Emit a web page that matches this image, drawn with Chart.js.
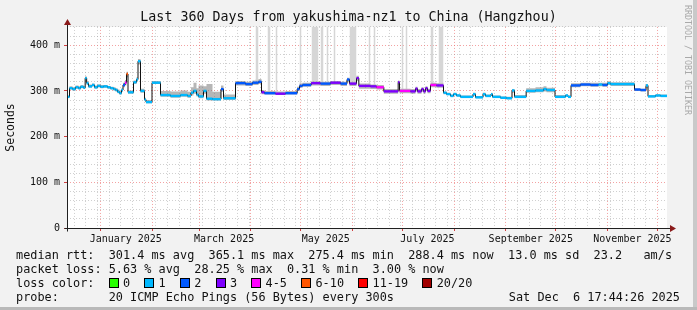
<!DOCTYPE html>
<html>
<head>
<meta charset="utf-8">
<script src="https://cdn.jsdelivr.net/npm/chart.js@4.4.1/dist/chart.umd.min.js"></script>
<style>
html,body{margin:0;padding:0;background:#f2f2f2;}
#wrap{position:relative;width:697px;height:310px;background:#f2f2f2;overflow:hidden;}
#c{position:absolute;left:0;top:0;}
#frameR{position:absolute;right:0;top:0;width:4px;height:310px;background:#c9c9c9;}
#frameB{position:absolute;left:0;bottom:0;width:697px;height:3px;background:#b9b9b9;}
.lg{position:absolute;left:16px;font-family:'DejaVu Sans Mono',monospace;font-size:11.85px;line-height:14px;white-space:pre;color:#111;}
.box{display:inline-block;width:8px;height:8px;border:1px solid #000;box-sizing:content-box;vertical-align:-1px;margin-right:calc(2ch - 10px);}
#stamp{position:absolute;right:17px;top:290px;font-family:'DejaVu Sans Mono',monospace;font-size:11.85px;line-height:14px;white-space:pre;color:#111;}
#wm{position:absolute;left:683px;top:5px;writing-mode:vertical-rl;font-family:'DejaVu Sans Mono',monospace;font-size:8.3px;color:#a9a9a9;white-space:pre;}
</style>
</head>
<body>
<div id="wrap">
<canvas id="c" width="697" height="310"></canvas>
<div id="frameR"></div><div id="frameB"></div>
<div id="wm">RRDTOOL / TOBI OETIKER</div>
<div class="lg" id="l1" style="top:248px"></div>
<div class="lg" id="l2" style="top:262px"></div>
<div class="lg" id="l3" style="top:276px"></div>
<div class="lg" id="l4" style="top:290px"></div>
<div id="stamp"></div>
</div>
<script>
// ---- data ----
// days since start of graph (Wed Dec 11 2024 17:44:26)
const days = [0,1.5,3.3,5.1,6.9,8.1,9.9,10.9,11.8,12.9,15,16.5,18.3,20.1,21.9,24.3,26.1,27.9,29.1,30.3,
31.5,32.7,33.6,34.8,35.7,36.6,39.9,41.7,42.6,44.1,46.5,47.4,51,56.1,62.1,68.1,72.3,74.4,75.9,77.7,
78.9,81.9,83.7,87.3,92.4,93.9,101.1,107.1,111.3,114.9,116.7,118.5,125.1,131.1,138.1,139.5,141.3,146.5,152.1,158.1,
164.1,168,169.5,173.7,175.1,182.1,185.7,190.1,198.7,199.5,206.1,209.1,210.3,212.7,213.9,215.1,216.3,218.1,221.7,225.9,
227.7,230.1,231.9,233.7,236.1,243.6,245.1,249.6,251.1,254.4,255.3,260.1,263.7,267,268.5,275.5,281.1,285.9,287.7,292.8,
299.1,300.6,302.4,308.1,314.1,318.9,321.3,324.3,326.1,340.5,344.1,347.4,348.6,353.1,356.1,360];
// median round trip time, ms
const medianMs = [287,306,304,308,306,309,307,328,317,310,313,308,311,309,310,308,306,304,302,298,
295,302,313,318,337,297,319,325,365,300,281,275.5,318,291,289,291,289,296,300,292,
288,300,283,282,304,284,317,315,318,320,297,295,294,295,304,311,313,317,316,318,
316,325,316,328,311,310,308,299,319,300,299,305,299,304,299,306,300,313,312,296,
293,289,293,290,287,293,286,293,289,293,287,285,284,301,287,300,301,304,302,287,
290,287,312,314,313,314,313,317,315,303,302,312,288,290,289,288];
// lost pings out of 20 for each step
const lossPings = [1,1,1,1,1,1,1,1,1,1,1,1,1,1,1,1,1,1,1,1,
1,1,2,4,6,1,1,1,1,1,1,1,1,1,1,1,1,1,1,1,
1,1,1,1,2,1,2,2,2,2,3,2,3,2,2,2,2,3,2,3,
2,2,3,3,3,3,4,3,3,4,3,3,3,3,3,3,3,4,3,1,
1,1,1,1,1,1,1,1,1,1,1,1,1,1,1,1,1,1,1,1,
1,1,2,2,2,1,2,1,1,2,2,1,1,1,1,1];
// smoke (ping spread) upper and lower edge, ms
const smokeHighMs = [290,310,308,312,310,313,311,332,321,314,316,312,314,313,313,311,309,308,306,303,
300,306,318,324,342,301,323,330,370,305,285,280,322,300,299,301,298,308,318,306,
312,310,315,298,312,292,322,320,323,326,302,300,299,300,309,316,318,321,320,322,
320,329,320,333,316,314,313,304,323,305,304,309,304,308,304,310,305,318,317,299,
296,292,296,293,290,296,289,296,292,296,290,288,287,304,291,306,308,310,307,291,
293,290,317,318,318,318,318,321,319,306,305,315,291,293,292,291];
const smokeLowMs = [285,303,301,305,303,306,304,322,313,307,310,305,308,306,307,305,303,301,299,295,
292,298,308,312,330,294,315,320,358,296,278,273,315,287,285,287,285,290,294,288,
284,294,279,279,298,280,312,311,313,315,293,292,291,292,300,307,309,312,311,313,
311,319,311,322,305,304,303,294,314,295,294,299,294,298,294,300,295,308,307,293,
291,287,291,288,285,290,284,290,287,290,285,283,282,296,285,296,297,299,297,285,
287,285,308,310,309,310,309,313,311,300,299,306,286,288,287,286];
// spans (days) where ping outliers run past the top of the graph
const outlierSpans = [[113.1,114.9],[120.3,122.1],[125.1,126.3],[139.5,140.7],[146.7,150.9],[152.1,153.9],
[155.7,156.9],[159.9,161.1],[169.5,173.7],[180.9,182.1],[183.9,185.1],[200.7,201.9],[203.1,204.3],
[218.1,219.9],[222.9,225.9]];

const lossLabels = ['0','1','2','3','4-5','6-10','11-19','20/20'];
const lossColors = ['#26ff00','#00b8ff','#0059ff','#7e00ff','#ff00ff','#ff5500','#ff0000','#a10000'];
const lossUpper = [0,1,2,3,5,10,19,20];
const labelMonths = ['January 2025','March 2025','May 2025','July 2025','September 2025','November 2025'];
const yTickValues = [0,20,40,60,80,100,120,140,160,180,200,220,240,260,280,300,320,340,360,380,400,420,440];
const legendLines = [
  'median rtt:  301.4 ms avg  365.1 ms max  275.4 ms min  288.4 ms now  13.0 ms sd  23.2   am/s',
  'packet loss: 5.63 % avg  28.25 % max  0.31 % min  3.00 % now'
];
const probeText = 'probe:       20 ICMP Echo Pings (56 Bytes) every 300s';
const stampText = 'Sat Dec  6 17:44:26 2025';
const titleText = 'Last 360 Days from yakushima-nz1 to China (Hangzhou)';

// ---- legend text ----
document.getElementById('l1').textContent = legendLines[0];
document.getElementById('l2').textContent = legendLines[1];
document.getElementById('l4').textContent = probeText;
document.getElementById('stamp').textContent = stampText;
(function(){
  const l3 = document.getElementById('l3');
  l3.appendChild(document.createTextNode('loss color:  '));
  lossLabels.forEach((lab, i) => {
    const b = document.createElement('span');
    b.className = 'box'; b.style.background = lossColors[i];
    l3.appendChild(b);
    l3.appendChild(document.createTextNode(lab + (i < lossLabels.length - 1 ? '  ' : '')));
  });
})();

// ---- time axis helpers ----
const MS_DAY = 86400000;
const t0 = new Date(2024, 11, 11, 17, 44, 26).getTime();
const dayOf = d => (d.getTime() - t0) / MS_DAY;
const monthStarts = [];
for (let m = 0; m < 12; m++) monthStarts.push(dayOf(new Date(2025, m, 1)));
const labelPos = [0, 2, 4, 6, 8, 10].map(m => dayOf(new Date(2025, m, 16)));
const weekLines = [];
for (let d = new Date(2024, 11, 16); dayOf(d) < 360; d = new Date(d.getFullYear(), d.getMonth(), d.getDate() + 7)) {
  weekLines.push(dayOf(d));
}
const kind = new Map();
weekLines.forEach(v => kind.set(v, 'minor'));
monthStarts.forEach(v => kind.set(v, 'major'));
labelPos.forEach((v, i) => kind.set(v, 'label' + i));
const xTickVals = [...kind.keys()].filter(v => v >= 0 && v <= 360).sort((a, b) => a - b);

const Y_MAX = 440;
const GRID_MINOR = 'rgba(150,150,150,0.45)';
const GRID_MAJOR = 'rgba(235,100,100,0.6)';

function lossColor(p) {
  for (let i = 0; i < lossUpper.length; i++) if (p <= lossUpper[i]) return lossColors[i];
  return lossColors[lossColors.length - 1];
}

// ---- datasets built from the arrays ----
const medianPts = days.map((d, i) => ({x: d, y: medianMs[i]}));
const coloredPts = [];
for (let i = 0; i < days.length - 1; i++) {
  coloredPts.push({x: days[i], y: medianMs[i]}, {x: days[i + 1], y: medianMs[i]}, {x: days[i + 1], y: null});
}
const hiPts = days.map((d, i) => ({x: d, y: smokeHighMs[i]}));
const loPts = days.map((d, i) => ({x: d, y: smokeLowMs[i]}));
const outPts = [];
outlierSpans.forEach(([a, b]) => outPts.push({x: a, y: Y_MAX}, {x: b, y: Y_MAX}, {x: b, y: null}));

const canvasBg = {
  id: 'canvasBg',
  beforeDraw(chart) {
    const {ctx, chartArea: a} = chart;
    ctx.save(); ctx.fillStyle = '#ffffff';
    ctx.fillRect(a.left, a.top, a.right - a.left, a.bottom - a.top);
    ctx.restore();
  }
};
const axisArrows = {
  id: 'axisArrows',
  afterDatasetsDraw(chart) {
    const {ctx, chartArea: a} = chart;
    const L = Math.round(a.left) + 0.5, B = Math.round(a.bottom) + 0.5;
    ctx.save();
    ctx.strokeStyle = '#202020'; ctx.lineWidth = 1;
    ctx.beginPath();
    ctx.moveTo(L - 3, B); ctx.lineTo(a.right + 4, B);
    ctx.moveTo(L, B + 3); ctx.lineTo(L, a.top - 3);
    ctx.stroke();
    ctx.fillStyle = '#8a1a1a';
    ctx.beginPath();
    ctx.moveTo(a.right + 9, B); ctx.lineTo(a.right + 3, B - 3.5); ctx.lineTo(a.right + 3, B + 3.5); ctx.closePath(); ctx.fill();
    ctx.beginPath();
    ctx.moveTo(L, a.top - 8); ctx.lineTo(L - 3.5, a.top - 2); ctx.lineTo(L + 3.5, a.top - 2); ctx.closePath(); ctx.fill();
    ctx.restore();
  }
};

new Chart(document.getElementById('c'), {
  type: 'line',
  data: {
    datasets: [
      { label: 'median (loss colour)', data: coloredPts, borderWidth: 2.4, borderColor: lossColors[1],
        pointRadius: 0, fill: false, spanGaps: false, borderCapStyle: 'butt',
        segment: { borderColor: c => lossColor(lossPings[Math.floor(c.p0DataIndex / 3)]) } },
      { label: 'median', data: medianPts, stepped: true, borderWidth: 1, borderColor: '#111111', pointRadius: 0, fill: false },
      { label: 'smoke high', data: hiPts, stepped: true, borderWidth: 0, pointRadius: 0,
        backgroundColor: 'rgba(110,110,110,0.5)', fill: '+1' },
      { label: 'smoke low', data: loPts, stepped: true, borderWidth: 0, pointRadius: 0, fill: false },
      { label: 'outliers', data: outPts, borderWidth: 0, pointRadius: 0, spanGaps: false,
        backgroundColor: '#d6d6d6', fill: {target: 2} }
    ]
  },
  options: {
    responsive: false,
    animation: false,
    events: [],
    layout: { padding: { left: 0, right: 0, top: 0, bottom: 62 } },
    plugins: {
      legend: { display: false },
      tooltip: { enabled: false },
      title: { display: true, text: titleText, color: '#111',
        font: { family: "'DejaVu Sans Mono'", size: 13.3, weight: 'normal', lineHeight: 1.2 },
        padding: { top: 10, bottom: 1 } }
    },
    scales: {
      x: {
        type: 'linear', min: 0, max: 360,
        afterFit: s => { s.height = 20; },
        afterBuildTicks: s => { s.ticks = xTickVals.map(v => ({value: v})); },
        ticks: {
          autoSkip: false, maxRotation: 0, minRotation: 0, padding: 2, color: '#111',
          font: { family: "'DejaVu Sans Mono'", size: 10 },
          callback: v => { const k = kind.get(v); return (k && k.startsWith('label')) ? labelMonths[+k.slice(5)] : ''; }
        },
        grid: {
          drawOnChartArea: true, drawTicks: true, tickLength: 3, lineWidth: 1,
          color: c => { const k = kind.get(c.tick && c.tick.value); return k === 'major' ? GRID_MAJOR : k === 'minor' ? GRID_MINOR : 'rgba(0,0,0,0)'; },
          tickColor: c => { const k = kind.get(c.tick && c.tick.value); return k === 'major' ? '#d04040' : 'rgba(0,0,0,0)'; }
        },
        border: { display: false, dash: [1, 2] }
      },
      y: {
        type: 'linear', min: 0, max: Y_MAX,
        afterFit: s => { s.width = 67; },
        afterBuildTicks: s => { s.ticks = yTickValues.map(v => ({value: v})); },
        ticks: {
          autoSkip: false, padding: 4, color: '#111',
          font: { family: "'DejaVu Sans Mono'", size: 10 },
          callback: v => (v % 100 === 0 ? (v === 0 ? '0' : v + ' m') : '')
        },
        grid: {
          tickLength: 3, lineWidth: 1,
          color: c => (c.tick && c.tick.value % 100 === 0 && c.tick.value !== 0) ? GRID_MAJOR : (c.tick && c.tick.value === 0 ? 'rgba(0,0,0,0)' : GRID_MINOR),
          tickColor: c => (c.tick && c.tick.value % 100 === 0) ? '#d04040' : 'rgba(0,0,0,0)'
        },
        border: { display: false, dash: [1, 2] },
        title: { display: true, text: 'Seconds', color: '#111',
          font: { family: "'DejaVu Sans Mono'", size: 11.5 }, padding: { top: 4, bottom: 0 } }
      },
      yRight: {
        type: 'linear', position: 'right', min: 0, max: Y_MAX,
        afterFit: s => { s.width = 30; },
        ticks: { display: false },
        grid: { drawOnChartArea: false, drawTicks: false },
        border: { display: false }
      }
    }
  },
  plugins: [canvasBg, axisArrows]
});
</script>
</body>
</html>
